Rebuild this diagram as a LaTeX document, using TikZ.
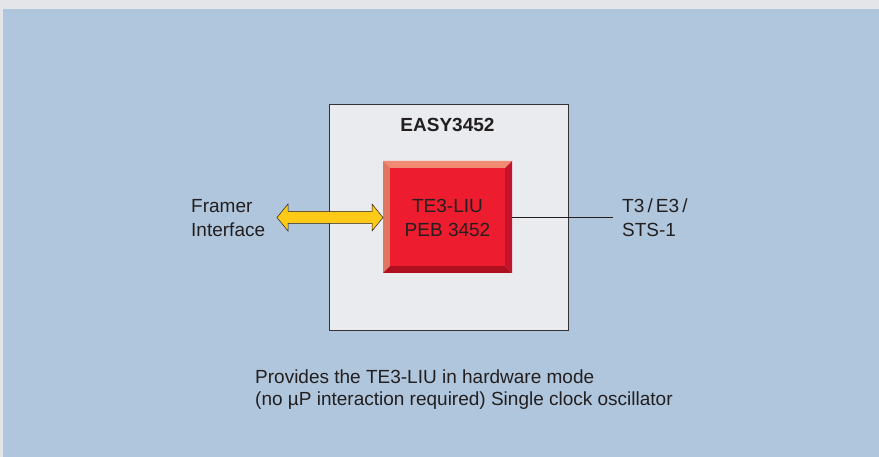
\documentclass[tikz,border=0pt]{standalone}
\usepackage{fontspec}
\setmainfont{Liberation Sans}
\usetikzlibrary{calc}
\definecolor{bggray}{HTML}{E4E5E8}
\definecolor{bgblue}{HTML}{AFC6DC}
\definecolor{boxfill}{HTML}{EAEBEE}
\definecolor{boxline}{HTML}{333333}
\definecolor{txt}{HTML}{231F20}
\definecolor{chipmain}{HTML}{ED1C2E}
\definecolor{chiptop}{HTML}{F08A72}
\definecolor{chipleft}{HTML}{E07560}
\definecolor{chipright}{HTML}{C4142A}
\definecolor{chipbottom}{HTML}{AE1020}
\definecolor{arrowyellow}{HTML}{FFC917}
\tikzset{
  lbl/.style={text=txt, font=\fontsize{19}{24}\selectfont, inner sep=0pt},
  lblleft/.style={lbl, anchor=base west},
  lblmid/.style={lbl, anchor=base},
}
\begin{document}
\begin{tikzpicture}[x=1pt,y=-1pt]
\useasboundingbox (0,0) rectangle (879,457);
\fill[bggray] (0,0) rectangle (879,457);
\fill[bgblue] (3,9) rectangle (879,457);
% board
\node[draw=boxline, line width=1pt, fill=boxfill, minimum width=239pt, minimum height=226pt, anchor=north west, inner sep=0pt] (board) at (328.5,104.5) {};
\node[lblmid, font=\fontsize{19}{24}\selectfont\bfseries] (title) at (447.5,132) {EASY3452};
% chip with bevels
\fill[chiptop] (383,161) -- (512,161) -- (505,168) -- (390,168) -- cycle;
\fill[chipleft] (383,161) -- (390,168) -- (390,266) -- (383,273) -- cycle;
\fill[chipright] (512,161) -- (512,273) -- (505,266) -- (505,168) -- cycle;
\fill[chipbottom] (383,273) -- (390,266) -- (505,266) -- (512,273) -- cycle;
\node[fill=chipmain, minimum width=115pt, minimum height=98pt, inner sep=0pt, anchor=north west] (chipin) at (390,168) {};
\node[minimum width=129pt, minimum height=112pt, inner sep=0pt, anchor=north west] (chip) at (383,161) {};
\node[lblmid] (chipl1) at (447.5,213) {TE3-LIU};
\node[lblmid] (chipl2) at (447.5,237) {PEB 3452};
% double arrow (Framer interface <-> chip)
\coordinate (arrtip) at (277,217.5);
\draw[fill=arrowyellow, draw=txt, line width=0.5pt, line join=miter]
  (arrtip) -- ++(11,-13.5) -- ++(0,7.5) -- ($(chip.west |- arrtip)+(-11,-6)$) -- ++(0,-7.5)
  -- (chip.west |- arrtip) -- ++(-11,13.5) -- ++(0,-7.5) -- ($(arrtip)+(11,6)$) -- ++(0,7.5) -- cycle;
% line
\coordinate (lineend) at (613,217);
\draw[txt, line width=0.8pt] (chip.east |- lineend) -- (lineend);
% labels
\node[lblleft] (framer1) at (191,213) {Framer};
\node[lblleft] (framer2) at (191,237) {Interface};
\node[lblleft] (t31) at (622,213) {T3\,/\,E3\,/};
\node[lblleft] (t32) at (622,237) {STS-1};
\node[lblleft] (note1) at (255,383) {Provides the TE3-LIU in hardware mode};
\node[lblleft] (note2) at (255,406) {(no µP interaction required) Single clock oscillator};
\end{tikzpicture}
\end{document}
